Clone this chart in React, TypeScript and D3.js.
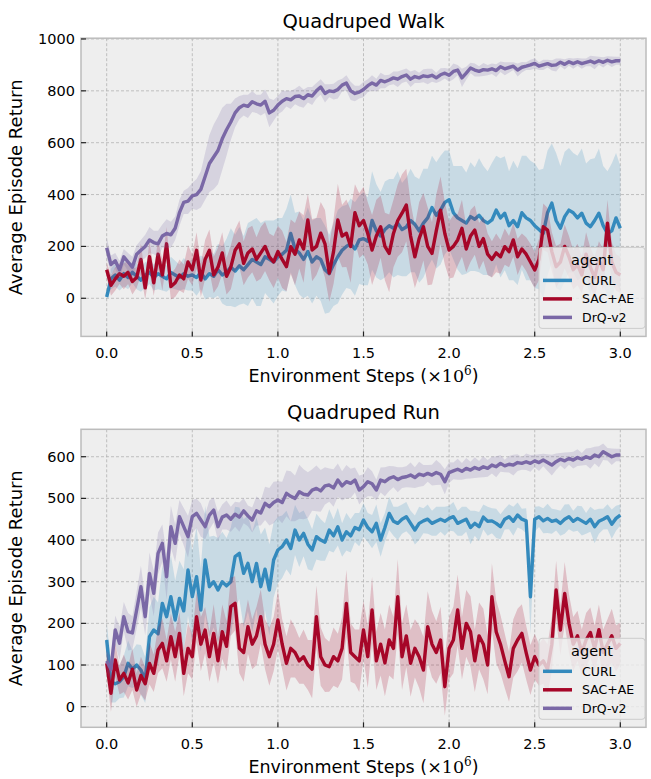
import React from 'react'
import * as d3 from 'd3'

// evaluation points, in millions of environment steps
const STEPS = d3.range(121).map(i => i * 0.025)

const agents = ['CURL', 'SAC+AE', 'DrQ-v2']
const colors = ['#348ABD', '#A60628', '#7A68A6']
const xTicks = [0, 0.5, 1, 1.5, 2, 2.5, 3]
const walkTicks = [0, 200, 400, 600, 800, 1000]
const runTicks = [0, 100, 200, 300, 400, 500, 600]

// ---- Quadruped Walk ----
const walkCurl = [
  5, 75, 90, 70, 95, 80, 100, 85, 70, 90,
  100, 80, 95, 85, 75, 100, 90, 80, 95, 85,
  90, 80, 100, 75, 95, 85, 110, 90, 100, 120,
  105, 125, 110, 130, 150, 140, 130, 160, 150, 140,
  160, 170, 185, 250, 190, 175, 150, 180, 140, 160,
  150, 110, 95, 130, 160, 185, 200, 210, 190, 225,
  230, 220, 300, 260, 240, 265, 280, 270, 290, 265,
  275, 300, 285, 260, 290, 310, 350, 320, 340, 370,
  380, 330, 310, 300, 290, 315, 305, 320, 300, 290,
  302, 340, 310, 328, 280, 300, 276, 330, 310, 300,
  280, 265, 250, 330, 367, 300, 270, 315, 340, 330,
  310, 328, 290, 276, 300, 328, 280, 250, 260, 310,
  270,
]
const walkCurlSd = [
  10, 40, 45, 40, 50, 45, 40, 50, 45, 50,
  45, 50, 60, 55, 50, 60, 55, 50, 60, 55,
  60, 70, 65, 80, 90, 85, 100, 110, 130, 150,
  140, 150, 130, 160, 150, 170, 160, 140, 150, 160,
  150, 140, 160, 150, 140, 160, 150, 170, 160, 150,
  160, 170, 150, 160, 180, 170, 160, 175, 180, 170,
  180, 170, 190, 180, 170, 185, 180, 190, 200, 180,
  190, 200, 185, 200, 210, 190, 200, 205, 210, 200,
  190, 180, 200, 210, 195, 210, 200, 220, 210, 200,
  220, 210, 230, 220, 210, 230, 225, 220, 240, 230,
  240, 230, 250, 240, 230, 260, 240, 250, 240, 230,
  240, 250, 230, 260, 240, 250, 230, 240, 260, 250,
  240,
]
const walkSac = [
  110, 50, 75, 95, 85, 100, 65, 80, 150, 40,
  160, 60, 170, 90, 210, 45, 60, 90, 75, 140,
  110, 185, 70, 150, 185, 90, 120, 175, 85, 120,
  185, 210, 135, 175, 190, 150, 175, 200, 160, 140,
  180, 150, 122, 199, 170, 225, 190, 302, 186, 200,
  251, 210, 97, 180, 302, 240, 251, 200, 330, 280,
  300, 250, 186, 240, 276, 200, 173, 250, 300, 328,
  360, 240, 160, 230, 276, 200, 173, 260, 340, 250,
  186, 200, 225, 270, 190, 240, 263, 200, 230, 170,
  150, 175, 160, 199, 180, 225, 160, 190, 170, 140,
  109, 150, 276, 263, 180, 122, 140, 200, 160, 110,
  130, 90, 170, 120, 80, 150, 110, 290, 140, 100,
  90,
]
const walkSacSd = [
  30, 40, 45, 40, 50, 45, 50, 40, 60, 45,
  60, 50, 55, 60, 65, 50, 55, 60, 55, 65,
  60, 70, 65, 75, 80, 70, 75, 80, 70, 85,
  80, 90, 85, 95, 90, 85, 100, 95, 90, 100,
  100, 110, 95, 105, 120, 110, 130, 100, 120, 110,
  120, 130, 110, 125, 140, 120, 130, 140, 110, 125,
  130, 120, 135, 140, 120, 130, 150, 130, 140, 150,
  140, 130, 120, 140, 130, 150, 120, 140, 130, 120,
  110, 120, 100, 110, 90, 100, 95, 90, 85, 80,
  70, 75, 65, 70, 60, 65, 70, 60, 65, 70,
  70, 80, 90, 85, 75, 80, 70, 85, 80, 75,
  80, 70, 85, 75, 80, 70, 80, 90, 75, 70,
  70,
]
const walkDrq = [
  195, 130, 145, 110, 160, 140, 120, 170, 185, 200,
  225, 215, 210, 240, 250, 245, 270, 330, 370, 375,
  395, 400, 420, 470, 520, 545, 570, 615, 650, 680,
  715, 735, 745, 740, 758, 750, 745, 760, 715, 725,
  745, 760, 770, 765, 778, 780, 770, 785, 780, 800,
  815, 790, 800, 797, 805, 822, 830, 800, 790, 795,
  805, 820, 830, 822, 840, 835, 842, 850, 845, 855,
  861, 845, 855, 850, 858, 855, 860, 850, 862, 868,
  860, 875, 880, 850, 868, 888, 880, 875, 882, 880,
  885, 878, 893, 885, 890, 895, 880, 891, 895, 900,
  906, 895, 900, 905, 898, 900, 910, 902, 912, 905,
  912, 905, 910, 915, 908, 916, 910, 918, 912, 916,
  916,
]
const walkDrqSd = [
  40, 35, 30, 35, 30, 35, 40, 35, 40, 45,
  50, 45, 50, 45, 55, 50, 45, 50, 45, 50,
  50, 60, 70, 90, 110, 125, 130, 120, 100, 70,
  55, 45, 40, 45, 40, 35, 40, 45, 55, 40,
  35, 40, 30, 35, 30, 40, 35, 30, 35, 30,
  30, 35, 25, 30, 35, 25, 30, 35, 30, 25,
  30, 25, 30, 25, 30, 25, 20, 25, 30, 25,
  25, 30, 25, 20, 25, 30, 25, 20, 25, 20,
  25, 30, 20, 35, 25, 20, 25, 20, 25, 20,
  20, 25, 20, 25, 20, 15, 25, 20, 15, 20,
  20, 15, 20, 15, 20, 25, 15, 20, 15, 20,
  15, 20, 15, 20, 25, 15, 20, 15, 20, 15,
  15,
]

// ---- Quadruped Run ----
const runCurl = [
  160, 60, 55, 60, 72, 104, 90, 100, 88, 64,
  168, 184, 175, 248, 216, 264, 208, 260, 230, 328,
  264, 312, 232, 352, 288, 300, 280, 300, 290, 300,
  360, 368, 320, 344, 300, 344, 288, 330, 280, 352,
  376, 384, 400, 380, 424, 400, 416, 390, 376, 408,
  400, 395, 424, 410, 432, 400, 420, 410, 430, 425,
  448, 430, 420, 440, 400, 430, 464, 445, 440, 450,
  456, 440, 424, 440, 446, 450, 440, 445, 450, 445,
  452, 456, 440, 445, 450, 430, 440, 432, 455, 445,
  446, 440, 432, 450, 456, 445, 460, 450, 446, 264,
  450, 456, 446, 452, 445, 448, 440, 450, 456, 445,
  452, 446, 440, 450, 432, 445, 450, 456, 438, 452,
  460,
]
const runCurlSd = [
  40, 50, 45, 40, 50, 55, 45, 50, 60, 55,
  70, 80, 75, 90, 85, 100, 95, 90, 100, 110,
  110, 120, 100, 130, 120, 110, 125, 120, 115, 130,
  120, 110, 130, 115, 120, 110, 125, 100, 110, 90,
  80, 75, 70, 65, 60, 65, 55, 60, 50, 55,
  50, 45, 50, 40, 45, 40, 45, 40, 35, 40,
  40, 35, 40, 45, 40, 35, 40, 35, 40, 35,
  35, 30, 35, 40, 30, 35, 30, 35, 30, 35,
  30, 35, 30, 35, 30, 40, 30, 35, 30, 35,
  30, 35, 30, 25, 30, 35, 30, 25, 30, 90,
  30, 25, 30, 35, 30, 25, 30, 35, 30, 25,
  30, 35, 25, 30, 40, 30, 25, 30, 35, 30,
  25,
]
const runSac = [
  104, 32, 112, 64, 80, 57, 90, 40, 75, 55,
  104, 80, 136, 152, 110, 168, 120, 176, 80, 140,
  120, 216, 150, 184, 120, 176, 110, 180, 145, 240,
  248, 140, 130, 192, 150, 170, 216, 150, 120, 150,
  208, 150, 104, 140, 130, 110, 120, 100, 90, 216,
  120, 100, 96, 120, 110, 140, 248, 130, 120, 110,
  184, 120, 232, 110, 150, 105, 160, 140, 264, 120,
  170, 104, 140, 120, 88, 192, 150, 130, 160, 48,
  140, 160, 232, 140, 200, 180, 110, 170, 150, 100,
  264, 180, 150, 110, 72, 140, 160, 176, 130, 88,
  120, 100, 110, 90, 150, 280, 184, 272, 200, 150,
  170, 130, 160, 178, 140, 185, 130, 150, 170, 140,
  152,
]
const runSacSd = [
  30, 45, 40, 35, 45, 40, 50, 40, 45, 40,
  50, 45, 55, 60, 50, 55, 60, 50, 55, 60,
  55, 60, 65, 55, 60, 70, 55, 65, 60, 70,
  65, 60, 70, 65, 60, 70, 65, 60, 70, 65,
  70, 60, 65, 70, 60, 55, 65, 60, 70, 75,
  70, 65, 60, 70, 65, 75, 80, 70, 65, 75,
  70, 75, 80, 70, 75, 80, 85, 75, 90, 80,
  75, 80, 70, 75, 80, 85, 80, 75, 80, 70,
  75, 80, 85, 75, 80, 85, 75, 80, 85, 70,
  80, 75, 70, 65, 60, 70, 75, 70, 65, 60,
  55, 50, 55, 60, 65, 70, 60, 75, 70, 65,
  60, 55, 65, 60, 55, 60, 55, 60, 65, 55,
  50,
]
const runDrq = [
  110, 90, 184, 152, 216, 180, 177, 232, 288, 216,
  320, 272, 368, 392, 312, 432, 392, 456, 432, 408,
  456, 464, 448, 432, 460, 472, 432, 455, 460, 450,
  462, 455, 470, 458, 448, 470, 465, 488, 480, 490,
  496, 490, 512, 505, 500, 516, 510, 508, 520, 524,
  518, 530, 532, 525, 544, 530, 540, 536, 544, 520,
  528, 540, 535, 520, 544, 540, 548, 552, 545, 550,
  552, 556, 550, 558, 555, 560, 556, 562, 558, 540,
  562, 566, 570, 565, 572, 568, 574, 570, 576, 572,
  580, 576, 584, 578, 582, 580, 586, 584, 588, 584,
  590, 586, 592, 586, 580, 588, 594, 590, 596, 592,
  598, 594, 600, 596, 604, 600, 612, 606, 600, 604,
  604,
]
const runDrqSd = [
  25, 30, 35, 40, 35, 45, 40, 45, 50, 45,
  50, 55, 50, 45, 55, 50, 45, 40, 45, 50,
  40, 35, 40, 30, 35, 30, 35, 30, 35, 30,
  30, 35, 30, 25, 30, 35, 30, 40, 45, 50,
  45, 50, 55, 60, 55, 65, 60, 55, 50, 55,
  50, 45, 40, 45, 40, 35, 40, 35, 30, 35,
  30, 35, 30, 25, 30, 35, 30, 25, 30, 25,
  25, 30, 25, 30, 25, 20, 25, 30, 25, 30,
  25, 20, 25, 20, 25, 20, 25, 20, 25, 20,
  20, 25, 20, 15, 20, 25, 20, 15, 20, 20,
  15, 20, 15, 20, 25, 20, 15, 20, 15, 20,
  20, 15, 20, 25, 20, 25, 20, 15, 20, 15,
  15,
]

const FONT = 'DejaVu Sans, sans-serif'
const LEFT = 81
const RIGHT = 646

function Panel({ id, title, top, bottom, yDomain, yTicks, means, sds }) {
  const x = d3.scaleLinear().domain([-0.15, 3.15]).range([LEFT, RIGHT])
  const y = d3.scaleLinear().domain(yDomain).range([bottom, top])

  const line = d3.line<number>().x((_, i) => x(STEPS[i])).y(d => y(d))
  const band = (mean, sd) => d3.area<number>()
    .x((_, i) => x(STEPS[i]))
    .y0((d, i) => y(d - sd[i]))
    .y1((d, i) => y(d + sd[i]))(mean)

  const cx = (LEFT + RIGHT) / 2
  const cy = (top + bottom) / 2
  const lgX = 539, lgW = 106
  const lgY = bottom - 89, lgH = 81

  return <g>
    <defs>
      <clipPath id={id}>
        <rect x={LEFT} y={top} width={RIGHT - LEFT} height={bottom - top} />
      </clipPath>
    </defs>
    <rect x={LEFT} y={top} width={RIGHT - LEFT} height={bottom - top} fill="#eeeeee" />
    {xTicks.map(t => <line key={'gx' + t} x1={x(t)} x2={x(t)} y1={top} y2={bottom}
      stroke="#b2b2b2" strokeWidth={0.8} strokeDasharray="3,2" />)}
    {yTicks.map(t => <line key={'gy' + t} x1={LEFT} x2={RIGHT} y1={y(t)} y2={y(t)}
      stroke="#b2b2b2" strokeWidth={0.8} strokeDasharray="3,2" />)}

    <g clipPath={`url(#${id})`}>
      {means.map((m, k) => <g key={agents[k]}>
        <path d={band(m, sds[k])} fill={colors[k]} fillOpacity={0.2} stroke="none" />
        <path d={line(m)} fill="none" stroke={colors[k]} strokeWidth={3.4} strokeLinejoin="round" />
      </g>)}
    </g>

    <rect x={LEFT} y={top} width={RIGHT - LEFT} height={bottom - top} fill="none"
      stroke="#bcbcbc" strokeWidth={1.5} />

    {xTicks.map(t => <g key={'tx' + t}>
      <line x1={x(t)} x2={x(t)} y1={bottom} y2={bottom - 5} stroke="#222" strokeWidth={1.2} />
      <text x={x(t)} y={bottom + 22} textAnchor="middle" fontSize={14.5} fontFamily={FONT}>{t.toFixed(1)}</text>
    </g>)}
    {yTicks.map(t => <g key={'ty' + t}>
      <line x1={LEFT} x2={LEFT + 5} y1={y(t)} y2={y(t)} stroke="#222" strokeWidth={1.2} />
      <text x={LEFT - 6} y={y(t) + 5} textAnchor="end" fontSize={14.5} fontFamily={FONT}>{t}</text>
    </g>)}

    <text x={cx} y={top - 10} textAnchor="middle" fontSize={19.5} fontFamily={FONT}>{title}</text>
    <text x={cx} y={bottom + 46} textAnchor="middle" fontSize={17.5} fontFamily={FONT}>
      Environment Steps (<tspan fontFamily="DejaVu Serif, serif">×10</tspan>
      <tspan fontFamily="DejaVu Serif, serif" fontSize={12} dy={-7}>6</tspan>
      <tspan dy={7}>)</tspan>
    </text>
    <text transform={`translate(22,${cy}) rotate(-90)`} textAnchor="middle" fontSize={18}
      fontFamily={FONT}>Average Episode Return</text>

    <rect x={lgX} y={lgY} width={lgW} height={lgH} rx={3} fill="#eeeeee" fillOpacity={0.8}
      stroke="#cccccc" strokeWidth={1} />
    <text x={lgX + lgW / 2} y={lgY + 18} textAnchor="middle" fontSize={14.5} fontFamily={FONT}>agent</text>
    {agents.map((a, k) => <g key={a}>
      <line x1={lgX + 4} x2={lgX + 33} y1={lgY + 33 + k * 18.5} y2={lgY + 33 + k * 18.5}
        stroke={colors[k]} strokeWidth={3.5} />
      <text x={lgX + 43} y={lgY + 37.5 + k * 18.5} fontSize={12.5} fontFamily={FONT}>{a}</text>
    </g>)}
  </g>
}

export default function App() {
  return <svg width={651} height={779} style={{ position: 'absolute', left: 0, top: 0, background: '#fff' }}>
    <Panel id="clipWalk" title="Quadruped Walk" top={38.2} bottom={336.4} yDomain={[-147, 1003]}
      yTicks={walkTicks} means={[walkCurl, walkSac, walkDrq]} sds={[walkCurlSd, walkSacSd, walkDrqSd]} />
    <Panel id="clipRun" title="Quadruped Run" top={429.3} bottom={727.3} yDomain={[-49.5, 665.8]}
      yTicks={runTicks} means={[runCurl, runSac, runDrq]} sds={[runCurlSd, runSacSd, runDrqSd]} />
  </svg>
}
